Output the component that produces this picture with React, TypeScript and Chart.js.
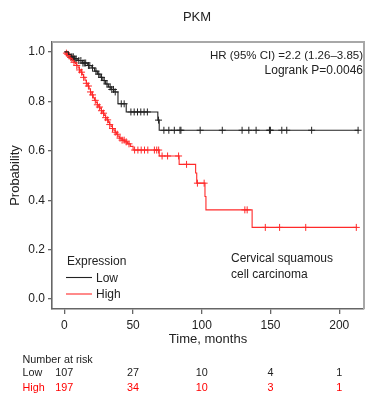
import React, { useEffect, useRef } from "react";
import { Chart, registerables } from "chart.js";
Chart.register(...registerables);

const FONT = "'Liberation Sans', Arial, Helvetica, sans-serif";
const LOW_COLOR = "#222222";
const HIGH_COLOR = "#ff2a2a";
const AXIS = "#666666";
const TEXT = "#222222";

const chartTitle = "PKM";
const xTitle = "Time, months";
const yTitle = "Probability";
const xTicks = [0, 50, 100, 150, 200];
const yTicks = [0, 0.2, 0.4, 0.6, 0.8, 1.0];

const groupNames = ["Low", "High"];
const legendTitle = "Expression";
const statsLines = ["HR (95% CI) =2.2 (1.26\u20133.85)", "Logrank P=0.0046"];
const noteLines = ["Cervical squamous", "cell carcinoma"];

// Kaplan-Meier steps: survival after each event time
const lowTimes = [0, 3, 5, 7, 10, 13, 17, 20, 22, 24, 26, 28, 30, 32, 34, 36, 39, 45, 68, 69, 214];
const lowSurv = [1, 0.99, 0.98, 0.972, 0.965, 0.955, 0.945, 0.935, 0.922, 0.91, 0.897, 0.884, 0.87, 0.858, 0.848, 0.838, 0.79, 0.757, 0.724, 0.683, 0.683];

const highTimes = [0, 1, 2, 3, 4, 5, 6, 7, 8, 9, 10, 11, 12, 13, 14, 15, 16, 17, 18, 19, 20, 21, 22, 23, 24, 25, 26, 27, 28, 29, 30, 31, 32, 33, 34, 35, 36, 37, 38, 39, 40, 42, 44, 46, 48, 50, 69, 83.5, 95.5, 96.3, 102.3, 103, 136.6, 213];
const highSurv = [1, 0.995, 0.99, 0.985, 0.978, 0.972, 0.965, 0.958, 0.952, 0.945, 0.935, 0.927, 0.918, 0.908, 0.897, 0.885, 0.873, 0.862, 0.85, 0.838, 0.826, 0.814, 0.804, 0.795, 0.786, 0.777, 0.77, 0.762, 0.752, 0.743, 0.734, 0.725, 0.715, 0.706, 0.698, 0.69, 0.683, 0.675, 0.667, 0.659, 0.651, 0.643, 0.636, 0.628, 0.618, 0.603, 0.579, 0.545, 0.51, 0.469, 0.415, 0.361, 0.29, 0.29];

// censoring times
const lowCensor = [5.5, 6.5, 7.5, 8.5, 10.5, 12, 13.5, 14.5, 15.5, 17.5, 18.5, 20.5, 23, 25, 27, 29, 31, 33.3, 34.5, 35.7, 37, 41.4, 43.5, 48.4, 50.8, 53.2, 55.6, 58, 60.4, 68.5, 72.4, 76, 80, 84.1, 84.8, 98.8, 114.9, 129.3, 134.2, 139.5, 149.2, 149.9, 158.2, 161.8, 179.9, 213.7];
const highCensor = [1.5, 2.5, 3.5, 4.5, 5.5, 7, 9, 11, 12.5, 14, 16, 17.5, 19, 20.5, 22.5, 24, 25.5, 27, 28.5, 30, 31.5, 33, 35, 37, 38.5, 40.5, 42, 43.5, 45, 47, 51.1, 53.5, 55.9, 58.3, 60.7, 65.5, 67.2, 68.6, 71.1, 75.1, 83.1, 88.9, 96.8, 101.7, 131.3, 133, 146.2, 156.6, 175.6, 212.4];

const riskTitle = "Number at risk";
const riskTimes = [0, 50, 100, 150, 200];
const lowAtRisk = [107, 27, 10, 4, 1];
const highAtRisk = [197, 34, 10, 3, 1];

function survAt(times: number[], surv: number[], t: number) {
  let s = surv[0];
  for (let i = 0; i < times.length; i++) {
    if (times[i] <= t) s = surv[i];
  }
  return s;
}

const overlay = {
  id: "overlay",
  afterDraw(chart: any) {
    const ctx = chart.ctx as CanvasRenderingContext2D;
    const ca = chart.chartArea;
    const xs = chart.scales.x;
    ctx.save();
    // top & right frame
    ctx.strokeStyle = "#a8a8a8";
    ctx.lineWidth = 2;
    ctx.beginPath();
    ctx.moveTo(ca.left, ca.top);
    ctx.lineTo(ca.right, ca.top);
    ctx.lineTo(ca.right, ca.bottom);
    ctx.stroke();

    // title
    ctx.fillStyle = TEXT;
    ctx.font = `13px ${FONT}`;
    ctx.textAlign = "center";
    ctx.textBaseline = "alphabetic";
    ctx.fillText(chartTitle, 197, 21);

    // stats
    ctx.textAlign = "right";
    ctx.font = `11.5px ${FONT}`;
    ctx.fillText(statsLines[0], ca.right - 1, 58.5);
    ctx.font = `12px ${FONT}`;
    ctx.fillText(statsLines[1], ca.right - 1, 74);

    // note
    ctx.textAlign = "left";
    ctx.fillText(noteLines[0], 231, 262);
    ctx.fillText(noteLines[1], 231, 277.5);

    // legend
    ctx.fillText(legendTitle, 67, 264.5);
    const colors = [LOW_COLOR, HIGH_COLOR];
    const ly = [277.5, 294];
    for (let i = 0; i < 2; i++) {
      ctx.strokeStyle = colors[i];
      ctx.lineWidth = 1.1;
      ctx.beginPath();
      ctx.moveTo(66, ly[i]);
      ctx.lineTo(92, ly[i]);
      ctx.stroke();
      ctx.fillStyle = TEXT;
      ctx.fillText(groupNames[i], 96, ly[i] + 4);
    }

    // number at risk
    ctx.font = `10.8px ${FONT}`;
    ctx.fillStyle = TEXT;
    ctx.textAlign = "left";
    ctx.fillText(riskTitle, 22.5, 362.5);
    ctx.fillText(groupNames[0], 22.5, 376);
    ctx.fillStyle = "#ff0000";
    ctx.fillText(groupNames[1], 22.5, 390.5);
    ctx.textAlign = "center";
    for (let i = 0; i < riskTimes.length; i++) {
      const px = xs.getPixelForValue(riskTimes[i]);
      ctx.fillStyle = TEXT;
      ctx.fillText(String(lowAtRisk[i]), px, 376);
      ctx.fillStyle = "#ff0000";
      ctx.fillText(String(highAtRisk[i]), px, 390.5);
    }
    ctx.restore();
  },
};

export default function App() {
  const ref = useRef<HTMLCanvasElement>(null);
  useEffect(() => {
    const lowLine = lowTimes.map((t, i) => ({ x: t, y: lowSurv[i] }));
    const highLine = highTimes.map((t, i) => ({ x: t, y: highSurv[i] }));
    const lowMarks = lowCensor.map((t) => ({ x: t, y: survAt(lowTimes, lowSurv, t) }));
    const highMarks = highCensor.map((t) => ({ x: t, y: survAt(highTimes, highSurv, t) }));
    const chart = new Chart(ref.current!, {
      type: "scatter",
      data: {
        datasets: [
          { label: groupNames[0], data: lowLine, showLine: true, stepped: true, borderColor: LOW_COLOR, borderWidth: 1.1, pointRadius: 0 },
          { label: groupNames[1], data: highLine, showLine: true, stepped: true, borderColor: HIGH_COLOR, borderWidth: 1.1, pointRadius: 0 },
          { label: groupNames[0] + " censored", data: lowMarks, showLine: false, pointStyle: "cross", pointRadius: 3.5, borderColor: LOW_COLOR, borderWidth: 1, backgroundColor: LOW_COLOR },
          { label: groupNames[1] + " censored", data: highMarks, showLine: false, pointStyle: "cross", pointRadius: 3.5, borderColor: HIGH_COLOR, borderWidth: 1, backgroundColor: HIGH_COLOR },
        ],
      } as any,
      options: {
        animation: false,
        responsive: false,
        devicePixelRatio: 1,
        layout: { padding: { left: 8, right: 3, top: 42, bottom: 47 } },
        plugins: { legend: { display: false }, tooltip: { enabled: false }, title: { display: false } },
        scales: {
          x: {
            type: "linear",
            min: -9,
            max: 218,
            afterBuildTicks: (s: any) => { s.ticks = xTicks.map((v) => ({ value: v })); },
            afterFit: (s: any) => { s.height = 38; },
            grid: { drawOnChartArea: false, drawTicks: true, tickLength: 5, color: AXIS, lineWidth: 1.3 },
            border: { display: true, color: AXIS, width: 1.6 },
            ticks: { font: { family: FONT, size: 12 }, color: TEXT, padding: 4, maxRotation: 0, callback: (v: any) => String(v) },
            title: { display: true, text: xTitle, font: { family: FONT, size: 13 }, color: TEXT, padding: 0 },
          },
          y: {
            type: "linear",
            min: -0.04,
            max: 1.04,
            afterBuildTicks: (s: any) => { s.ticks = yTicks.map((v) => ({ value: v })); },
            afterFit: (s: any) => { s.width = 44; },
            grid: { drawOnChartArea: false, drawTicks: true, tickLength: 4, color: AXIS, lineWidth: 1.3 },
            border: { display: true, color: AXIS, width: 1.6 },
            ticks: { font: { family: FONT, size: 12 }, color: TEXT, padding: 3, callback: (v: any) => Number(v).toFixed(1) },
            title: { display: true, text: yTitle, font: { family: FONT, size: 13 }, color: TEXT, padding: 0 },
          },
        },
      } as any,
      plugins: [overlay],
    });
    return () => chart.destroy();
  }, []);
  return (
    <div style={{ position: "fixed", left: 0, top: 0, width: 369, height: 394, background: "#fff" }}>
      <canvas ref={ref} width={369} height={394} style={{ display: "block" }} />
    </div>
  );
}
